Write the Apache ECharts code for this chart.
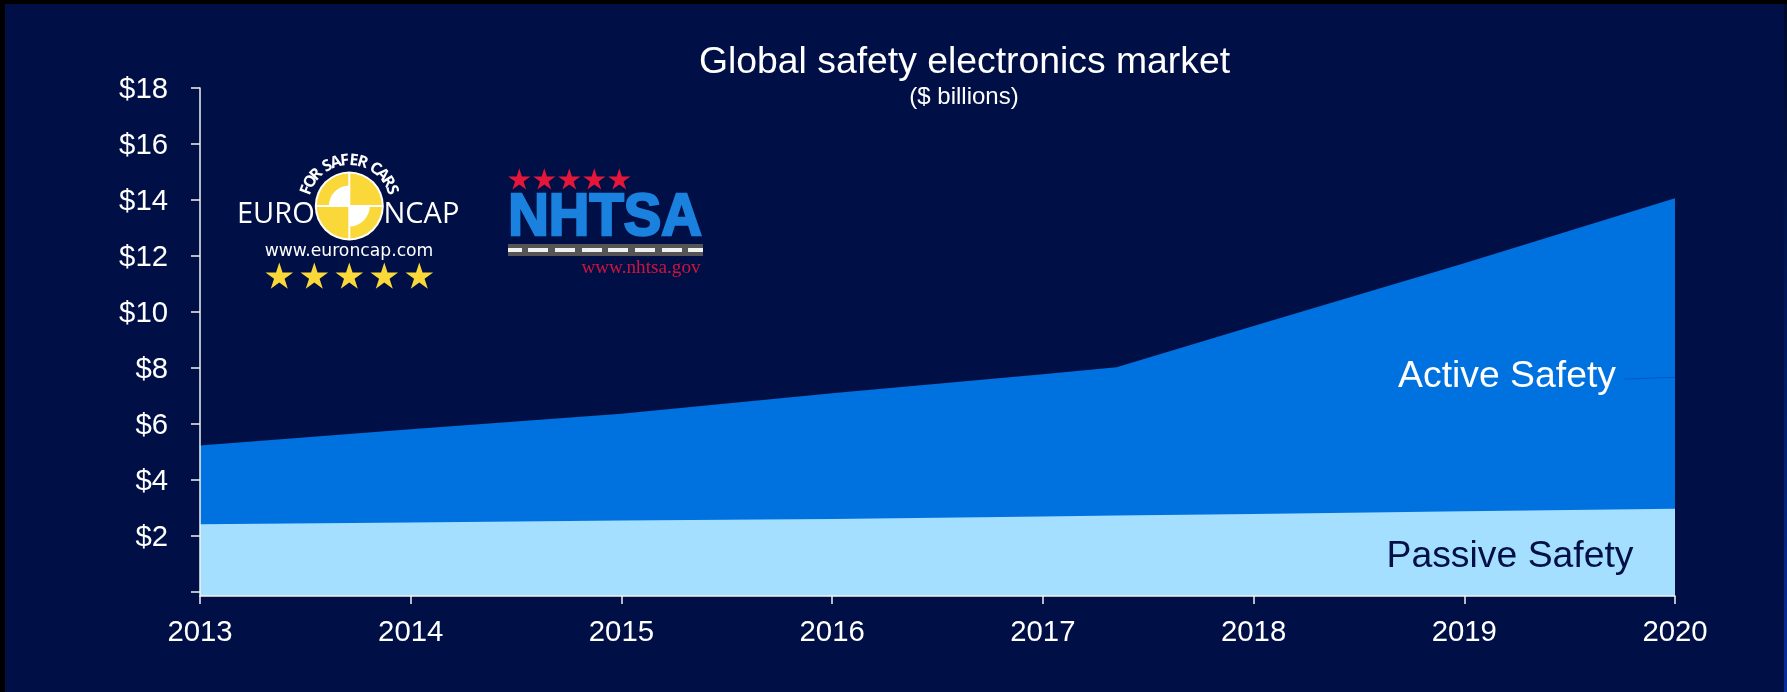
<!DOCTYPE html>
<html>
<head>
<meta charset="utf-8">
<title>Global safety electronics market</title>
<script src="https://cdn.jsdelivr.net/npm/echarts@6/dist/echarts.min.js"></script>
<style>
  html, body { margin: 0; padding: 0; background: #000; }
  #chart { width: 1787px; height: 692px; }
</style>
</head>
<body>
<div id="chart"></div>
<script>
const years = [2013, 2014, 2015, 2016, 2017, 2017.35, 2018, 2019, 2020];
const passiveSafety = [2.42, 2.48, 2.55, 2.61, 2.70, 2.73, 2.79, 2.88, 2.97];
const activeSafety = [2.81, 3.33, 3.82, 4.49, 5.08, 5.30, 6.71, 8.86, 11.09];
const yTickValues = [0, 2, 4, 6, 8, 10, 12, 14, 16, 18];
const yLabelValues = [2, 4, 6, 8, 10, 12, 14, 16, 18];
const activeLeader = [[2019.76, 7.6], [2020, 7.67]];

const NAVY = '#001046';
const FONT = '"Liberation Sans", Arial, sans-serif';
const YELLOW = '#fbd83a';

// Five-pointed star as a polygon centred on (cx, cy).
function starShape(cx, cy, r) {
  const pts = [];
  for (let i = 0; i < 10; i++) {
    const rad = i % 2 ? r * 0.382 : r;
    const a = -Math.PI / 2 + i * Math.PI / 5;
    pts.push([cx + rad * Math.cos(a), cy + rad * Math.sin(a)]);
  }
  return { points: pts };
}

function starRow(xStart, step, y, r, fill) {
  return [0, 1, 2, 3, 4].map(i => ({
    type: 'polygon',
    shape: starShape(xStart + i * step, y, r),
    style: { fill: fill }
  }));
}

function label(text, x, y, size, fill, extra) {
  return {
    type: 'text', x: x, y: y,
    style: Object.assign({
      text: text, fill: fill, font: size + 'px ' + FONT,
      textAlign: 'center', textVerticalAlign: 'middle'
    }, extra || {})
  };
}

// Euro NCAP badge: crash-test target with quartered disc, arched strapline.
function euroNcapBadge() {
  const cx = 349.3, cy = 206, R = 33;
  const items = [
    { type: 'circle', shape: { cx: cx, cy: cy, r: R + 1.5 }, style: { fill: '#fff' } },
    { type: 'sector', shape: { cx: cx, cy: cy, r: R - 0.5, r0: 0, startAngle: -Math.PI / 2, endAngle: 0 }, style: { fill: YELLOW } },
    { type: 'sector', shape: { cx: cx, cy: cy, r: R - 0.5, r0: 0, startAngle: Math.PI / 2, endAngle: Math.PI }, style: { fill: YELLOW } },
    { type: 'sector', shape: { cx: cx, cy: cy, r: R - 0.5, r0: R * 0.62, startAngle: Math.PI, endAngle: Math.PI * 1.5 }, style: { fill: YELLOW } },
    { type: 'sector', shape: { cx: cx, cy: cy, r: R - 0.5, r0: R * 0.62, startAngle: 0, endAngle: Math.PI / 2 }, style: { fill: YELLOW } },
    { type: 'rect', shape: { x: cx - 1, y: cy - R, width: 2, height: 2 * R }, style: { fill: '#fff' } },
    { type: 'rect', shape: { x: cx - R, y: cy - 1, width: 2 * R, height: 2 }, style: { fill: '#fff' } }
  ];
  // Arched strapline, one rotated glyph at a time; word gaps take less arc than letters.
  const arch = 'FOR SAFER CARS'.split('');
  const archR = 45.5, span = 2.42;
  const advance = arch.map(ch => (ch === ' ' ? 0.55 : 1));
  const total = advance.reduce((s, v) => s + v, 0) - (advance[0] + advance[arch.length - 1]) / 2;
  let run = -advance[0] / 2;
  arch.forEach((ch, i) => {
    run += advance[i] / 2;
    const a = -span / 2 + span * run / total;
    run += advance[i] / 2;
    items.push({
      type: 'text',
      x: cx + archR * Math.sin(a), y: cy - archR * Math.cos(a),
      rotation: -a,
      style: { text: ch, fill: '#fff', font: 'bold 16px "Open Sans", ' + FONT, textAlign: 'center', textVerticalAlign: 'middle' }
    });
  });
  items.push(
    { type: 'text', x: 237, y: 215, style: { text: 'EURO', fill: '#fff', font: '29px "Open Sans", ' + FONT, textAlign: 'left', textVerticalAlign: 'middle' } },
    { type: 'text', x: 383.5, y: 215, style: { text: 'NCAP', fill: '#fff', font: '29px "Open Sans", ' + FONT, textAlign: 'left', textVerticalAlign: 'middle' } },
    label('www.euroncap.com', 349, 252, 17.2, '#fff', { font: '17.2px "DejaVu Sans", ' + FONT })
  );
  return items.concat(starRow(279.3, 35, 277, 14.5, YELLOW));
}

// NHTSA badge: wordmark over a road stripe with a web address underneath.
function nhtsaBadge() {
  const road = { type: 'rect', shape: { x: 508, y: 244, width: 195, height: 12 }, style: { fill: '#555555' } };
  const dashRects = [[508, 14], [528, 20], [555, 20], [582, 20], [608, 20], [635, 20], [662, 20], [688, 15]];
  const dashes = dashRects.map(d => ({
    type: 'rect', shape: { x: d[0], y: 248, width: d[1], height: 4 }, style: { fill: '#f2f2f2' }
  }));
  return starRow(519.3, 25, 180, 11.7, '#e4173a').concat([
    {
      type: 'text', x: 605, y: 218.5, scaleX: 0.937,
      style: { text: 'NHTSA', fill: '#1a82de', stroke: '#1a82de', lineWidth: 2.5, font: 'bold 60px ' + FONT, textAlign: 'center', textVerticalAlign: 'middle' }
    },
    road
  ], dashes, [
    label('www.nhtsa.gov', 641, 268, 19.2, '#cf143c', { font: '19.2px "Liberation Serif", serif' })
  ]);
}

// Graphic groups do not pass their z on, so each child gets it directly.
function onTop(items) {
  return items.map(item => Object.assign({ z: 10 }, item));
}

// Areas are layered: the upper boundary of Active Safety sits on Passive Safety.
const activeTop = activeSafety.map((v, i) => +(v + passiveSafety[i]).toFixed(2));

const chart = echarts.init(document.getElementById('chart'));
chart.setOption({
  animation: false,
  backgroundColor: '#000',
  textStyle: { fontFamily: FONT },
  grid: { left: 200, right: 112, top: 88, bottom: 96, containLabel: false },
  xAxis: {
    type: 'value', min: 2013, max: 2020, interval: 1, z: 5,
    splitLine: { show: false },
    axisLine: { show: true, onZero: false, lineStyle: { color: '#f2f2f2', width: 1.5 } },
    axisTick: { show: true, length: 8, inside: false, lineStyle: { color: '#f2f2f2', width: 1.5 } },
    axisLabel: { color: '#fff', fontSize: 29.33, margin: 22, formatter: v => String(v), showMinLabel: true, showMaxLabel: true }
  },
  yAxis: {
    type: 'value', min: -0.143, max: 18, z: 5,
    splitLine: { show: false },
    axisLine: { show: true, lineStyle: { color: '#f2f2f2', width: 1.5 } },
    axisTick: { show: true, length: 9, lineStyle: { color: '#f2f2f2', width: 1.5 }, customValues: yTickValues },
    axisLabel: { color: '#fff', fontSize: 29.33, margin: 32, formatter: v => '$' + v, customValues: yLabelValues, verticalAlign: 'top', lineHeight: 4 }
  },
  series: [
    {
      name: 'Active Safety', type: 'line', symbol: 'none', silent: true,
      lineStyle: { width: 0 }, areaStyle: { color: '#0072e0', opacity: 1, origin: 'start' },
      data: years.map((y, i) => [y, activeTop[i]]), z: 2,
      markLine: {
        silent: true, symbol: 'none', label: { show: false },
        lineStyle: { color: '#0058c0', width: 1, type: 'solid' },
        data: [[{ coord: activeLeader[0] }, { coord: activeLeader[1] }]]
      }
    },
    {
      name: 'Passive Safety', type: 'line', symbol: 'none', silent: true,
      lineStyle: { width: 0 }, areaStyle: { color: '#a4dfff', opacity: 1, origin: 'start' },
      data: years.map((y, i) => [y, passiveSafety[i]]), z: 3
    }
  ],
  graphic: {
    elements: [
      { type: 'group', silent: true, children: [
        { type: 'rect', z: -10, shape: { x: 5, y: 4, width: 1779, height: 688 }, style: { fill: NAVY } },
        { type: 'rect', z: -10, shape: { x: 1784, y: 4, width: 3, height: 688 }, style: { fill: new echarts.graphic.LinearGradient(0, 0, 0, 1, [{ offset: 0, color: '#000a2a' }, { offset: 0.5, color: '#001a62' }, { offset: 1, color: '#06309a' }]) } }
      ] },
      { type: 'group', silent: true, children: onTop([
        label('Global safety electronics market', 964.5, 62.5, 37.33, '#fff'),
        label('($ billions)', 964, 97.5, 24, '#fff'),
        label('Active Safety', 1507, 377, 37.33, '#fff'),
        label('Passive Safety', 1510, 557, 37.33, NAVY)
      ]) },
      { type: 'group', silent: true, children: onTop(euroNcapBadge()) },
      { type: 'group', silent: true, children: onTop(nhtsaBadge()) }
    ]
  }
});
</script>
</body>
</html>
